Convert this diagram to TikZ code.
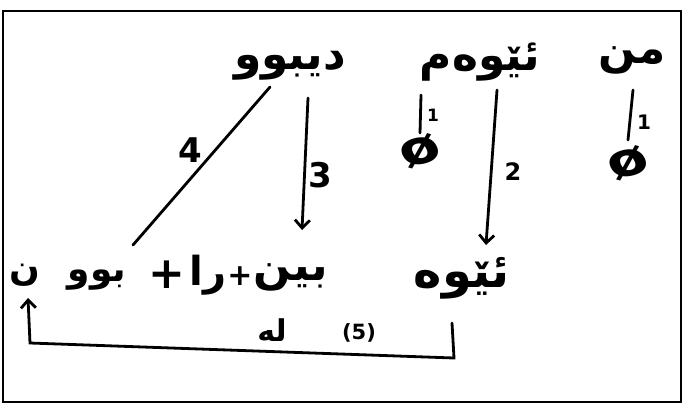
\documentclass[tikz,border=0pt]{standalone}
\usepackage{fontspec}
\usetikzlibrary{arrows.meta}
\newfontfamily\arabicfont[Script=Arabic]{DejaVu Sans}
\newfontfamily\dejavu{DejaVu Sans}
\TeXXeTstate=1
\begin{document}
\begin{tikzpicture}[x=1pt,y=-1pt,
  ln/.style={line width=2.8pt, line cap=round},
  arr/.style={ln,-{Straight Barb[length=8pt,width=15pt]}},
  ar/.style={font=\arabicfont\bfseries\fontsize{44}{48}\selectfont, inner sep=0pt},
  arsm/.style={font=\arabicfont\bfseries\fontsize{36}{40}\selectfont, inner sep=0pt},
  num/.style={font=\dejavu\bfseries\fontsize{34}{36}\selectfont, inner sep=0pt},
  small/.style={font=\dejavu\bfseries\fontsize{17}{19}\selectfont, inner sep=0pt},
  zero/.style={font=\dejavu\bfseries\fontsize{46}{48}\selectfont, inner sep=0pt, xscale=1.3, rotate=20}]
\useasboundingbox (0,0) rectangle (684,405);
\draw[line width=2.5pt] (3,11) rectangle (681,402);
% top row
\node[ar] (min) at (632,60) {\beginR من\endR};
\node[ar] (ewem) at (480,62) {\beginR ئێوەم\endR};
\node[ar] (dibu) at (290,66) {\beginR دیبوو\endR};
% bottom row
\node[ar,font=\arabicfont\bfseries\fontsize{48}{52}\selectfont] (ewe) at (462,278) {\beginR ئێوە\endR};
\node[ar] (bin) at (291,277) {\beginR بین\endR};
\node[arsm,font=\arabicfont\bfseries\fontsize{30}{34}\selectfont] (plusa) at (240,276) {+};
\node[ar,font=\arabicfont\bfseries\fontsize{40}{44}\selectfont] (ra) at (208,275) {\beginR را\endR};
\node[ar] (plusb) at (167,275) {+};
\node[arsm] (buu) at (97,280) {\beginR بوو\endR};
\node[arsm] (nun) at (25,275) {\beginR ن\endR};
% zeros
\node[zero] (z1) at (420,151) {ø};
\node[zero] (z2) at (628,163) {ø};
% coordinates
\coordinate (l4a) at (270,87);
\coordinate (l4b) at (133,245);
\coordinate (a3a) at (308,98);
\coordinate (a3b) at (302,230);
\coordinate (a2a) at (497,90);
\coordinate (a2b) at (486,245);
\coordinate (d1a) at (421,95);
\coordinate (d1b) at (420,133);
\coordinate (d2a) at (633,90);
\coordinate (d2b) at (628,140);
\coordinate (c5a) at (452,323);
\coordinate (c5b) at (454,358);
\coordinate (c5c) at (30,343);
\coordinate (c5d) at (28,298);
% connectors
\draw[ln] (l4a) -- (l4b);
\draw[arr] (a3a) -- (a3b);
\draw[arr] (a2a) -- (a2b);
\draw[ln] (d1a) -- (d1b);
\draw[ln] (d2a) -- (d2b);
\draw[arr] (c5a) -- (c5b) -- (c5c) -- (c5d);
% labels
\node[num] (n4) at (190,150) {4};
\node[num] (n3) at (320,175) {3};
\node[num,font=\dejavu\bfseries\fontsize{24}{26}\selectfont] (n2) at (513,172) {2};
\node[small] (n1a) at (433,115) {1};
\node[small,font=\dejavu\bfseries\fontsize{20}{22}\selectfont] (n1b) at (644,122) {1};
\node[ar,font=\arabicfont\bfseries\fontsize{30}{32}\selectfont] (le) at (272,330) {\beginR لە\endR};
\node[small,font=\dejavu\bfseries\fontsize{21}{23}\selectfont] (n5) at (359,333) {(5)};
\end{tikzpicture}
\end{document}
